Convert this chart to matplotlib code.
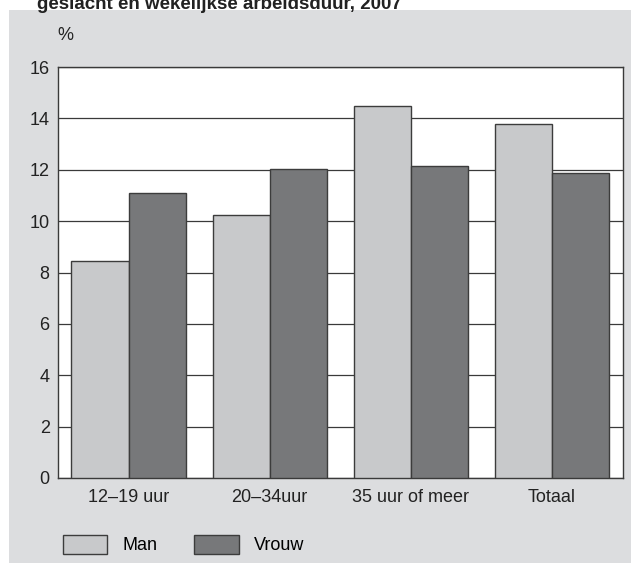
import matplotlib
matplotlib.use('Agg')
import matplotlib.pyplot as plt
import numpy as np
from matplotlib.patches import Rectangle

plt.rcParams['font.family'] = ['Liberation Sans', 'DejaVu Sans']

# data
categories = ['12\u201319 uur', '20\u201334uur', '35 uur of meer', 'Totaal']
man = [8.45, 10.22, 14.47, 13.8]
vrouw = [11.08, 12.03, 12.14, 11.87]
yticks = [0, 2, 4, 6, 8, 10, 12, 14, 16]

W, H = 631, 565
fig = plt.figure(figsize=(W / 100, H / 100), dpi=100)
fig.patch.set_facecolor('white')

# gray panel behind the chart
fig.patches.append(Rectangle((9 / W, 2 / H), 1 - 9 / W, (563 - 10) / H,
                             transform=fig.transFigure, facecolor='#dcdddf',
                             edgecolor='none', zorder=-1))

fig.text(37 / W, 1 - 9 / H, 'geslacht en wekelijkse arbeidsduur, 2007',
         fontsize=13.5, fontweight='bold', color='#222', va='baseline', ha='left')

ax = fig.add_axes([58 / W, (H - 478) / H, 564.5 / W, 411 / H])
ax.set_facecolor('white')

x = np.arange(len(categories))
w = 0.405
ax.bar(x - w / 2, man, w, color='#c8c9cb', edgecolor='#3c3c3c', linewidth=1, zorder=3, label='Man')
ax.bar(x + w / 2, vrouw, w, color='#77787a', edgecolor='#3c3c3c', linewidth=1, zorder=3, label='Vrouw')

ax.set_xlim(-0.5, len(categories) - 0.5)
ax.set_ylim(0, 16)
ax.set_yticks(yticks)
ax.set_xticks(x)
ax.set_xticklabels(categories)
ax.tick_params(axis='both', length=0, labelsize=13, colors='#222')
ax.tick_params(axis='y', pad=6)
ax.tick_params(axis='x', pad=8)
ax.yaxis.grid(True, color='#3a3a3a', linewidth=0.9, zorder=1)
ax.set_axisbelow(True)
for s in ax.spines.values():
    s.set_color('#3a3a3a')
    s.set_linewidth(1)

fig.text(57 / W, 1 - 36 / H, '%', fontsize=13, color='#222', va='center', ha='left')

fig.legend(loc='center left', bbox_to_anchor=(62.5 / W, 1 - 544.5 / H), ncol=2,
           frameon=False, fontsize=13, handlelength=2.49, handleheight=1.27,
           handletextpad=0.83, columnspacing=2.05, borderpad=0, borderaxespad=0)

fig.savefig('out.png', dpi=100, facecolor='white')
